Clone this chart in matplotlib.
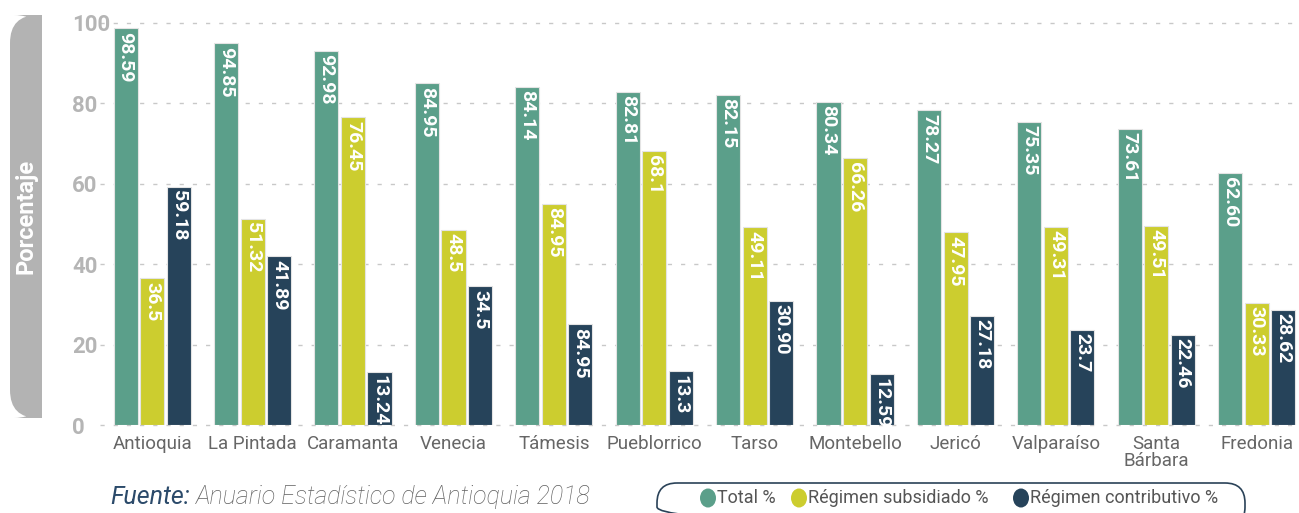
import numpy as np
import matplotlib.pyplot as plt
from matplotlib.patches import FancyBboxPatch, Rectangle, Ellipse

# data
municipios = ['Antioquia', 'La Pintada', 'Caramanta', 'Venecia', 'Támesis', 'Pueblorrico',
              'Tarso', 'Montebello', 'Jericó', 'Valparaíso', 'Santa\nBárbara', 'Fredonia']
total = [98.59, 94.85, 92.98, 84.95, 84.14, 82.81, 82.15, 80.34, 78.27, 75.35, 73.61, 62.60]
subsidiado = [36.5, 51.32, 76.45, 48.5, 55.0, 68.1, 49.11, 66.26, 47.95, 49.31, 49.51, 30.33]
contributivo = [59.18, 41.89, 13.24, 34.5, 25.0, 13.3, 30.90, 12.59, 27.18, 23.7, 22.46, 28.62]
# labels as printed on the chart
total_lbl = ['98.59', '94.85', '92.98', '84.95', '84.14', '82.81', '82.15', '80.34', '78.27', '75.35', '73.61', '62.60']
subsidiado_lbl = ['36.5', '51.32', '76.45', '48.5', '84.95', '68.1', '49.11', '66.26', '47.95', '49.31', '49.51', '30.33']
contributivo_lbl = ['59.18', '41.89', '13.24', '34.5', '84.95', '13.3', '30.90', '12.59', '27.18', '23.7', '22.46', '28.62']

series = ['Total %', 'Régimen subsidiado %', 'Régimen contributivo %']
colors = ['#5b9f8a', '#cccd2f', '#26435a']

plt.rcParams['font.family'] = ['Roboto', 'DejaVu Sans']

fig = plt.figure(figsize=(12.99, 5.13), dpi=100)

# background layer in pixel coordinates
bg = fig.add_axes([0, 0, 1, 1], zorder=-1)
bg.set_xlim(0, 1299)
bg.set_ylim(513, 0)
bg.axis('off')
bg.add_patch(FancyBboxPatch((10, 15), 32, 403, boxstyle='round,pad=0,rounding_size=28',
                            fc='#b3b3b3', ec='none'))
bg.add_patch(Rectangle((26, 15), 16, 403, fc='#b3b3b3', ec='none'))

ax = fig.add_axes([100 / 1299, 88 / 513, 1 - 100 / 1299, 402.3 / 513])
x = np.arange(len(municipios))
w = 0.24
offs = [-0.265, 0.0, 0.263]
for vals, lbls, c, o in zip([total, subsidiado, contributivo],
                             [total_lbl, subsidiado_lbl, contributivo_lbl], colors, offs):
    bars = ax.bar(x + o, vals, w, color=c, edgecolor='#e4e4e4', linewidth=0.8, zorder=3)
    for b, t in zip(bars, lbls):
        ax.annotate(t, (b.get_x() + b.get_width() / 2, b.get_height()), xytext=(0, -2.5),
                    textcoords='offset points', ha='center', va='top', rotation=-90,
                    color='white', fontsize=14, fontweight='bold', zorder=4)

ax.set_xlim(-0.52, 11.42)
ax.set_ylim(0, 100)
ax.set_yticks([0, 20, 40, 60, 80, 100])
ax.yaxis.grid(True, color='#c8c8c8', linewidth=1, dashes=(3, 6.5), zorder=0)
ax.set_axisbelow(True)
for s in ax.spines.values():
    s.set_visible(False)
ax.tick_params(axis='y', length=0, pad=20, labelcolor='#b5b5b5', labelsize=16)
for t in ax.get_yticklabels():
    t.set_fontweight('bold')
    t.set_horizontalalignment('left')
ax.set_xticks(x)
ax.set_xticklabels(municipios, linespacing=0.95)
ax.tick_params(axis='x', length=0, pad=7, labelcolor='#666666', labelsize=13.5)
for ln in ax.get_ygridlines():
    ln.set_clip_on(False)

# y label
bg.text(26, 216, 'Porcentaje', rotation=90, ha='center', va='center', color='white',
        fontsize=17, fontweight='bold')

# source
t1 = bg.text(110, 497, 'Fuente:', ha='left', va='center', color='#2b4a6a', fontsize=18,
             style='italic')
fig.canvas.draw()
bb = t1.get_window_extent()
bg.text(bb.x1 + 6, 497, 'Anuario Estadístico de Antioquia 2018', ha='left', va='center',
        color='#606060', fontsize=18, style='italic', fontweight='light')

# legend pill
bg.add_patch(FancyBboxPatch((657, 483), 588, 44, boxstyle='round,pad=0,rounding_size=20',
                            fc='none', ec='#2a4258', lw=1.2))
leg_x = [708, 799, 1021]
for lx, name, c in zip(leg_x, series, colors):
    bg.add_patch(Ellipse((lx, 498), 16, 19, fc=c, ec='none'))
    bg.text(lx + 9, 498, name, ha='left', va='center', color='#555555', fontsize=13)

fig.savefig('out.png', dpi=100)
